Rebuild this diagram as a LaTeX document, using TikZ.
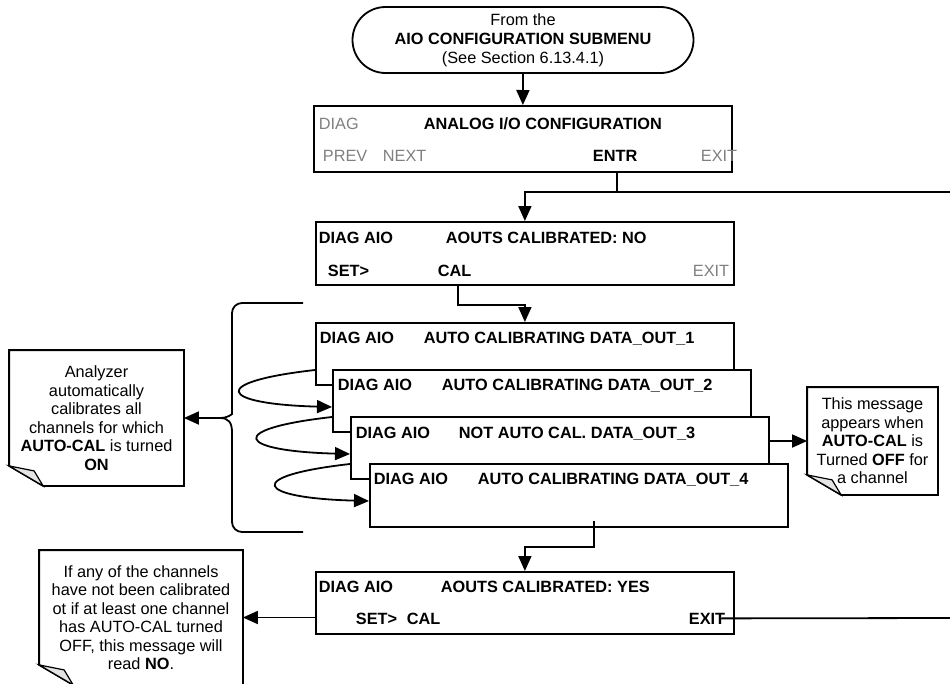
\documentclass[tikz,border=0pt]{standalone}
\usepackage{fontspec}
\setmainfont{Liberation Sans}
\usetikzlibrary{arrows.meta,calc}
\definecolor{keygray}{RGB}{128,128,128}
\definecolor{curlgray}{RGB}{228,228,228}
\newcommand{\panelfont}{\fontsize{16.3}{18.5}\selectfont}

\begin{document}
\begin{tikzpicture}[
  x=1pt, y=-1pt,
  line width=1.8pt,
  term/.style={
    draw,
    rounded corners=33pt,
    align=center,
    minimum width=341pt,
    minimum height=66pt,
    font=\fontsize{16.3}{19}\selectfont
  },
  screen/.style={draw, fill=white, anchor=north west, minimum width=418pt, minimum height=62pt, inner sep=0pt},
  btxt/.style={anchor=base west, inner sep=0pt, font=\panelfont\bfseries},
  gtxt/.style={anchor=base west, inner sep=0pt, text=keygray, font=\panelfont},
  note/.style={align=center, inner sep=0pt, font=\panelfont},
  curl/.style={fill=curlgray, line width=1.2pt},
  line/.style={-{Triangle[length=15pt,width=13pt]}, line width=1.8pt}
]
\useasboundingbox (0,0) rectangle (950,683);

% start of the menu
\node[term] (start) at (523,40) {From the\\\textbf{AIO CONFIGURATION SUBMENU}\\(See Section 6.13.4.1)};

% analog i/o configuration
\node[screen, minimum height=66pt] (scr1) at (313,105) {};
\node[gtxt] (diag1) at (318,129) {DIAG};
\node[btxt] (title1) at (423,129) {ANALOG I/O CONFIGURATION};
\node[gtxt] (prev1) at (322,161) {PREV};
\node[gtxt] (next1) at (382,161) {NEXT};
\node[btxt] (entr1) at (592,161) {ENTR};
\node[gtxt] (exit1) at (700,161) {EXIT};

\node[screen, minimum height=63pt] (scr2) at (315,221) {};
\node[btxt] (diag2) at (318,243) {DIAG AIO};
\node[btxt] (title2) at (445,243) {AOUTS CALIBRATED: NO};
\node[btxt] (set2) at (327,276) {SET>};
\node[btxt] (cal2) at (437,276) {CAL};
\node[gtxt] (exit2) at (692,276) {EXIT};

% stacked auto calibration screens
\node[screen] (scrA) at (315,322) {};
\node[btxt] (diagA) at (319,343) {DIAG AIO};
\node[btxt] (titleA) at (423,343) {AUTO CALIBRATING DATA\_OUT\_1};
\node[screen] (scrB) at (332,369) {};
\node[btxt] (diagB) at (337,390) {DIAG AIO};
\node[btxt] (titleB) at (441,390) {AUTO CALIBRATING DATA\_OUT\_2};
\node[screen] (scrC) at (350,416) {};
\node[btxt] (diagC) at (355,438) {DIAG AIO};
\node[btxt] (titleC) at (458,438) {NOT AUTO CAL. DATA\_OUT\_3};
\node[screen, minimum height=63pt] (scrD) at (369,463) {};
\node[btxt] (diagD) at (373,484) {DIAG AIO};
\node[btxt] (titleD) at (477,484) {AUTO CALIBRATING DATA\_OUT\_4};

\node[screen] (scrE) at (315,571) {};
\node[btxt] (diagE) at (318,592) {DIAG AIO};
\node[btxt] (titleE) at (440,592) {AOUTS CALIBRATED: YES};
\node[btxt] (setE) at (355,624) {SET>};
\node[btxt] (calE) at (406,624) {CAL};
\node[btxt] (exitE) at (688,624) {EXIT};

% notes
\node[note, minimum width=173pt, minimum height=134pt] (noteL) at (96.5,418) {Analyzer\\automatically\\calibrates all\\channels for which\\\textbf{AUTO-CAL} is turned\\\textbf{ON}};
\node[note, minimum width=129pt, minimum height=106pt] (noteR) at (872.5,441) {This message\\appears when\\\textbf{AUTO-CAL} is\\Turned \textbf{OFF} for\\a channel};
\node[note, minimum width=202pt, minimum height=133pt] (noteB) at (141,617.5) {If any of the channels\\have not been calibrated\\ot if at least one channel\\has AUTO-CAL turned\\OFF, this message will\\read \textbf{NO}.};
\foreach \n in {noteL,noteR,noteB} {
  \draw (\n.north west) -- (\n.north east) -- (\n.south east) -- ($(\n.south west)+(34,0)$) -- ($(\n.south west)+(0,-20)$) -- cycle;
  \draw[curl] ($(\n.south west)+(0,-20)$) -- ($(\n.south west)+(25,-15)$) -- ($(\n.south west)+(34,0)$) -- cycle;
}

% junctions
\coordinate (jn1) at (617,192);
\coordinate (offR) at (950,192);
\coordinate (jn2) at (458,305);
\coordinate (jn3) at (594,547);
\coordinate (offE) at (950,618);
\coordinate (bracetip) at (220,418);

\draw[line] (start) -- (scr1.north);
\draw (jn1 |- scr1.south) -- (jn1) -- (offR);
\draw[line] (jn1) -| (scr2.north);
\draw[line] (jn2 |- scr2.south) -- (jn2) -| (scrA.north);

% loops between the channels
\foreach \a/\b in {scrA/scrB, scrB/scrC, scrC/scrD}
  \draw[line] ($(\a.north west)+(0,48)$) .. controls +(-107,12) and +(-114,-3) .. ($(\b.north west)+(0,38)$);

% brace
\draw[rounded corners=10pt] (303,303) -- (232,303) -- (232,404) [sharp corners] .. controls (232,414) and (228,418) .. (bracetip) .. controls (228,418) and (232,422) .. (232,432) [rounded corners=10pt] -- (232,532) -- (303,532);
\draw[line] (bracetip) -- (noteL.east);

\draw[line] (scrC.east |- noteR.west) -- (noteR.west);
\draw[line] ($(jn3 |- scrD.south)+(0,-7)$) -- (jn3) -| (scrE.north);
\draw[line] (scrE.west |- noteB.east) -- (noteB.east);
\draw ($(exitE.east)+(-6,0)$) -- (offE);

\end{tikzpicture}
\end{document}
